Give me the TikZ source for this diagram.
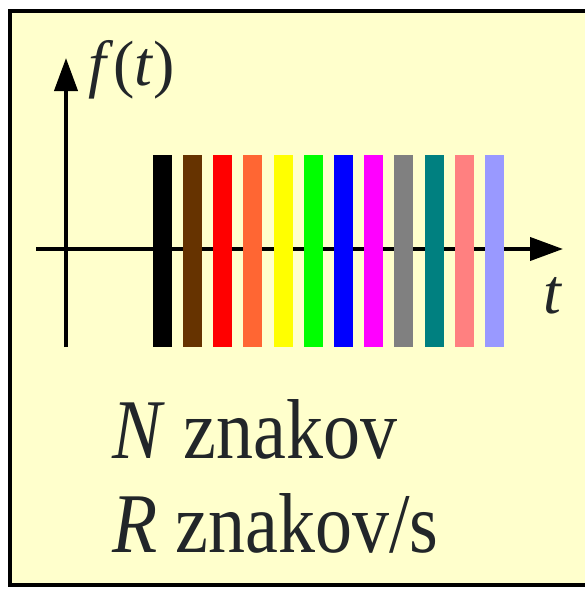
\documentclass[tikz,border=0pt]{standalone}
\usepackage{fontspec}
\setmainfont{Liberation Serif}
\newfontfamily\narrowfont[FakeStretch=0.87]{Liberation Serif}
\usetikzlibrary{arrows.meta}
\definecolor{panel}{HTML}{FFFFCC}
\definecolor{ink}{HTML}{222629}
\definecolor{cBlack}{HTML}{000000}
\definecolor{cBrown}{HTML}{663300}
\definecolor{cRed}{HTML}{FF0000}
\definecolor{cOrange}{HTML}{FF6633}
\definecolor{cYellow}{HTML}{FFFF00}
\definecolor{cGreen}{HTML}{00FF00}
\definecolor{cBlue}{HTML}{0000FF}
\definecolor{cMagenta}{HTML}{FF00FF}
\definecolor{cGray}{HTML}{808080}
\definecolor{cTeal}{HTML}{008080}
\definecolor{cPink}{HTML}{FF8080}
\definecolor{cLav}{HTML}{9999FF}
\tikzset{
    axis/.style={line width=4pt, -{Triangle[length=33pt,width=23pt]}},
    bigtext/.style={font=\narrowfont\fontsize{85}{95}\selectfont, text=ink, anchor=base west, inner sep=0pt},
    axislabel/.style={font=\fontsize{64}{70}\selectfont, text=ink, anchor=base west, inner sep=0pt}
}
\begin{document}
\begin{tikzpicture}[x=1pt, y=-1pt]
    \useasboundingbox (0,0) rectangle (585,589);
    \clip (0,0) rectangle (585,589);
    \draw[line width=4pt, fill=panel] (10,11) rectangle (600,585);
    % axes
    \coordinate (xstart) at (36,249);
    \coordinate (xend) at (563,249);
    \coordinate (ystart) at (66,347);
    \coordinate (yend) at (66,58);
    \draw[axis] (xstart) -- (xend);
    \draw[axis] (ystart) -- (yend);
    \node[axislabel] (flabel) at (88,85) {\textit{f}(\textit{t})};
    \node[axislabel] (tlabel) at (543,313) {\textit{t}};
    % symbols
    \foreach \c [count=\i from 0] in {cBlack,cBrown,cRed,cOrange,cYellow,cGreen,cBlue,cMagenta,cGray,cTeal,cPink,cLav} {
        \fill[\c] ({152.7+\i*30.2},155) rectangle ({171.7+\i*30.2},347);
    }
    \node[bigtext] (count) at (112,458) {\textit{N} znakov};
    \node[bigtext] (rate) at (112,552) {\textit{R} znakov/s};
\end{tikzpicture}
\end{document}
